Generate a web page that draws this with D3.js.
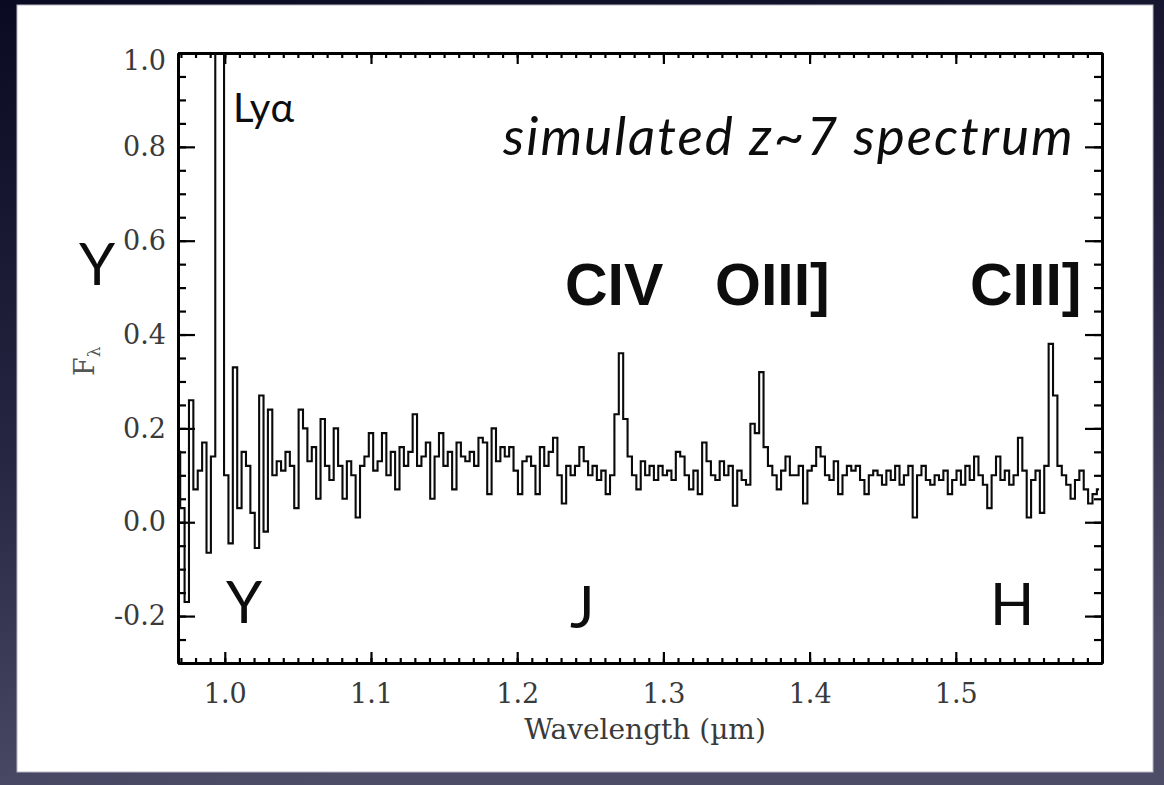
<!DOCTYPE html>
<html>
<head>
<meta charset="utf-8">
<script src="https://cdn.jsdelivr.net/npm/d3@7"></script>
<style>
  html, body { margin: 0; padding: 0; background: #1a1a35; }
  svg { display: block; }
</style>
</head>
<body>
<div class="chart"></div>
<script>
// spectrum (wavelength in micron, flux F_lambda)
var wavelength = [
  0.968, 0.971, 0.974, 0.977, 0.980, 0.983, 0.986, 0.989, 0.992, 0.995,
  0.998, 1.001, 1.004, 1.007, 1.010, 1.013, 1.016, 1.019, 1.022, 1.025,
  1.028, 1.031, 1.034, 1.037, 1.040, 1.043, 1.046, 1.049, 1.052, 1.055,
  1.058, 1.061, 1.064, 1.067, 1.070, 1.073, 1.076, 1.079, 1.082, 1.085,
  1.088, 1.091, 1.094, 1.097, 1.100, 1.103, 1.106, 1.109, 1.112, 1.115,
  1.118, 1.121, 1.124, 1.127, 1.130, 1.133, 1.136, 1.139, 1.142, 1.145,
  1.148, 1.151, 1.154, 1.157, 1.160, 1.163, 1.166, 1.169, 1.172, 1.175,
  1.178, 1.181, 1.184, 1.187, 1.190, 1.193, 1.196, 1.199, 1.202, 1.205,
  1.208, 1.211, 1.214, 1.217, 1.220, 1.223, 1.226, 1.229, 1.232, 1.235,
  1.238, 1.241, 1.244, 1.247, 1.250, 1.253, 1.256, 1.259, 1.262, 1.265,
  1.268, 1.271, 1.274, 1.277, 1.280, 1.283, 1.286, 1.289, 1.292, 1.295,
  1.298, 1.301, 1.304, 1.307, 1.310, 1.313, 1.316, 1.319, 1.322, 1.325,
  1.328, 1.331, 1.334, 1.337, 1.340, 1.343, 1.346, 1.349, 1.352, 1.355,
  1.358, 1.361, 1.364, 1.367, 1.370, 1.373, 1.376, 1.379, 1.382, 1.385,
  1.388, 1.391, 1.394, 1.397, 1.400, 1.403, 1.406, 1.409, 1.412, 1.415,
  1.418, 1.421, 1.424, 1.427, 1.430, 1.433, 1.436, 1.439, 1.442, 1.445,
  1.448, 1.451, 1.454, 1.457, 1.460, 1.463, 1.466, 1.469, 1.472, 1.475,
  1.478, 1.481, 1.484, 1.487, 1.490, 1.493, 1.496, 1.499, 1.502, 1.505,
  1.508, 1.511, 1.514, 1.517, 1.520, 1.523, 1.526, 1.529, 1.532, 1.535,
  1.538, 1.541, 1.544, 1.547, 1.550, 1.553, 1.556, 1.559, 1.562, 1.565,
  1.568, 1.571, 1.574, 1.577, 1.580, 1.583, 1.586, 1.589, 1.592, 1.595,
  1.598];

var flux = [
  0.15, 0.03, -0.17, 0.26, 0.07, 0.11, 0.17, -0.065, 0.14, 1.40,
  1.30, 0.10, -0.045, 0.33, 0.03, 0.15, 0.12, 0.02, -0.055, 0.27,
  -0.02, 0.24, 0.10, 0.13, 0.11, 0.15, 0.12, 0.03, 0.24, 0.20,
  0.13, 0.16, 0.05, 0.22, 0.12, 0.09, 0.20, 0.12, 0.05, 0.13,
  0.10, 0.01, 0.12, 0.14, 0.19, 0.11, 0.13, 0.19, 0.10, 0.15,
  0.07, 0.16, 0.12, 0.15, 0.23, 0.12, 0.14, 0.17, 0.05, 0.14,
  0.19, 0.12, 0.15, 0.07, 0.17, 0.14, 0.13, 0.15, 0.12, 0.18,
  0.17, 0.06, 0.20, 0.13, 0.16, 0.14, 0.16, 0.11, 0.06, 0.13,
  0.14, 0.12, 0.06, 0.16, 0.12, 0.15, 0.18, 0.10, 0.04, 0.12,
  0.10, 0.12, 0.16, 0.13, 0.10, 0.12, 0.09, 0.11, 0.06, 0.10,
  0.23, 0.36, 0.22, 0.14, 0.10, 0.07, 0.13, 0.10, 0.12, 0.09,
  0.12, 0.10, 0.11, 0.09, 0.15, 0.14, 0.10, 0.07, 0.11, 0.06,
  0.17, 0.13, 0.10, 0.09, 0.13, 0.10, 0.12, 0.035, 0.11, 0.09,
  0.08, 0.21, 0.19, 0.32, 0.16, 0.12, 0.10, 0.07, 0.11, 0.14,
  0.10, 0.10, 0.12, 0.04, 0.11, 0.12, 0.16, 0.14, 0.10, 0.09,
  0.13, 0.06, 0.10, 0.12, 0.11, 0.12, 0.09, 0.06, 0.10, 0.11,
  0.10, 0.08, 0.11, 0.09, 0.12, 0.08, 0.10, 0.12, 0.01, 0.10,
  0.12, 0.09, 0.08, 0.10, 0.09, 0.11, 0.06, 0.09, 0.11, 0.08,
  0.12, 0.09, 0.14, 0.10, 0.08, 0.03, 0.10, 0.14, 0.09, 0.11,
  0.08, 0.10, 0.18, 0.11, 0.01, 0.09, 0.11, 0.02, 0.12, 0.38,
  0.27, 0.12, 0.10, 0.08, 0.05, 0.09, 0.11, 0.07, 0.04, 0.06,
  0.07];

var xTicks = [1.0, 1.1, 1.2, 1.3, 1.4, 1.5];
var yTicks = [-0.2, 0.0, 0.2, 0.4, 0.6, 0.8, 1.0];

(function() {
  var
    width = 1164,
    height = 785,
    plot = { left: 178, right: 1102, top: 53, bottom: 663 };

  var svg = d3.select(".chart").append("svg")
    .attr("width", width)
    .attr("height", height);

  // slide background
  var grad = svg.append("defs").append("linearGradient")
    .attr("id", "bg").attr("x1", 0).attr("y1", 0).attr("x2", 0.25).attr("y2", 1);
  grad.append("stop").attr("offset", "0%").attr("stop-color", "#0a0a22");
  grad.append("stop").attr("offset", "55%").attr("stop-color", "#262642");
  grad.append("stop").attr("offset", "100%").attr("stop-color", "#4d4d68");
  svg.append("rect").attr("width", width).attr("height", height).attr("fill", "url(#bg)");

  svg.select("defs").append("clipPath").attr("id", "plotclip")
    .append("rect")
      .attr("x", plot.left).attr("y", plot.top)
      .attr("width", plot.right - plot.left).attr("height", plot.bottom - plot.top);

  // white panel
  svg.append("rect")
    .attr("x", 17).attr("y", 5).attr("width", 1136).attr("height", 767)
    .attr("fill", "#fff").attr("stroke", "#b8b8c4").attr("stroke-width", 1);

  var x = d3.scaleLinear().domain([0.968, 1.6]).range([plot.left, plot.right]);
  var y = d3.scaleLinear().domain([-0.3, 1.0]).range([plot.bottom, plot.top]);

  var xMinor = d3.range(97, 161).map(function(d) { return d / 100; });
  var yMinor = d3.range(-6, 21).map(function(d) { return d / 20; });
  var fmt = function(d) { return d.toFixed(1); };

  function styleAxis(sel) {
    sel.selectAll(".domain").attr("stroke", "#000").attr("stroke-width", 3);
    sel.selectAll(".tick line").attr("stroke", "#000").attr("stroke-width", 2.2);
    sel.selectAll(".tick text")
      .attr("fill", "#3a3a3a")
      .style("font-family", "'DejaVu Serif', serif")
      .style("font-size", "27px");
  }

  // minor ticks first
  svg.append("g").attr("transform", "translate(0," + plot.bottom + ")")
    .call(d3.axisBottom(x).tickValues(xMinor).tickSize(-5).tickSizeOuter(0).tickFormat(""))
    .call(styleAxis);
  svg.append("g").attr("transform", "translate(0," + plot.top + ")")
    .call(d3.axisTop(x).tickValues(xMinor).tickSize(-5).tickSizeOuter(0).tickFormat(""))
    .call(styleAxis);
  svg.append("g").attr("transform", "translate(" + plot.left + ",0)")
    .call(d3.axisLeft(y).tickValues(yMinor).tickSize(-8).tickSizeOuter(0).tickFormat(""))
    .call(styleAxis);
  svg.append("g").attr("transform", "translate(" + plot.right + ",0)")
    .call(d3.axisRight(y).tickValues(yMinor).tickSize(-8).tickSizeOuter(0).tickFormat(""))
    .call(styleAxis);

  // major ticks
  svg.append("g").attr("transform", "translate(0," + plot.bottom + ")")
    .call(d3.axisBottom(x).tickValues(xTicks).tickSize(-11).tickSizeOuter(0).tickPadding(21).tickFormat(fmt))
    .call(styleAxis);
  svg.append("g").attr("transform", "translate(0," + plot.top + ")")
    .call(d3.axisTop(x).tickValues(xTicks).tickSize(-11).tickSizeOuter(0).tickFormat(""))
    .call(styleAxis);
  var yl = svg.append("g").attr("transform", "translate(" + plot.left + ",0)")
    .call(d3.axisLeft(y).tickValues(yTicks).tickSize(-17).tickSizeOuter(0).tickPadding(12).tickFormat(fmt))
    .call(styleAxis);
  svg.append("g").attr("transform", "translate(" + plot.right + ",0)")
    .call(d3.axisRight(y).tickValues(yTicks).tickSize(-17).tickSizeOuter(0).tickFormat(""))
    .call(styleAxis);

  // top label sits a little lower, as in the IDL plot
  yl.selectAll(".tick text").filter(function(d) { return d === 1.0; }).attr("dy", "0.62em");

  // spectrum (histogram style)
  var data = wavelength.map(function(w, i) { return { w: w, f: flux[i] }; });
  var line = d3.line()
    .curve(d3.curveStep)
    .x(function(d) { return x(d.w); })
    .y(function(d) { return y(d.f); });

  svg.append("path")
    .datum(data)
    .attr("clip-path", "url(#plotclip)")
    .attr("d", line)
    .attr("fill", "none")
    .attr("stroke", "#0a0a0a")
    .attr("stroke-width", 2.1)
    .attr("stroke-linejoin", "miter");

  // axis titles
  svg.append("text")
    .attr("x", 645)
    .attr("y", 739)
    .attr("text-anchor", "middle")
    .attr("fill", "#3a3a3a")
    .style("font-family", "'DejaVu Serif', serif")
    .style("font-size", "28px")
    .text("Wavelength (\u00b5m)");

  var fl = svg.append("text")
    .attr("transform", "translate(94,376) rotate(-90)")
    .attr("fill", "#555")
    .style("font-family", "'DejaVu Serif', serif")
    .style("font-size", "27px");
  fl.append("tspan").text("F");
  fl.append("tspan").attr("dy", 6).style("font-size", "17px").text("\u03bb");

  // annotations
  var sans = "'Liberation Sans', Arial, sans-serif";
  function note(tx, ty, txt, size, weight, family, style, spacing) {
    svg.append("text")
      .attr("x", tx).attr("y", ty)
      .attr("fill", "#0d0d0d")
      .style("font-family", family || sans)
      .style("font-size", size + "px")
      .style("font-weight", weight || "normal")
      .style("font-style", style || "normal")
      .style("letter-spacing", (spacing || 0) + "px")
      .text(txt);
  }

  note(233, 122, "Ly\u03b1", 40, "normal", "Lato, sans-serif");
  note(503, 155, "simulated z~7 spectrum", 53, "normal", "Lato, sans-serif", "italic", 2);

  note(565, 305, "CIV", 59, "bold");
  note(715, 305, "OIII]", 59, "bold");
  note(970, 305, "CIII]", 59, "bold");

  note(79, 285, "Y", 58, "normal", "Lato, sans-serif");
  note(226, 623, "Y", 58, "normal", "Lato, sans-serif");
  note(570, 628, "J", 58, "normal", "Lato, sans-serif");
  note(990, 625, "H", 58, "normal", "Lato, sans-serif");
})();
</script>
</body>
</html>
